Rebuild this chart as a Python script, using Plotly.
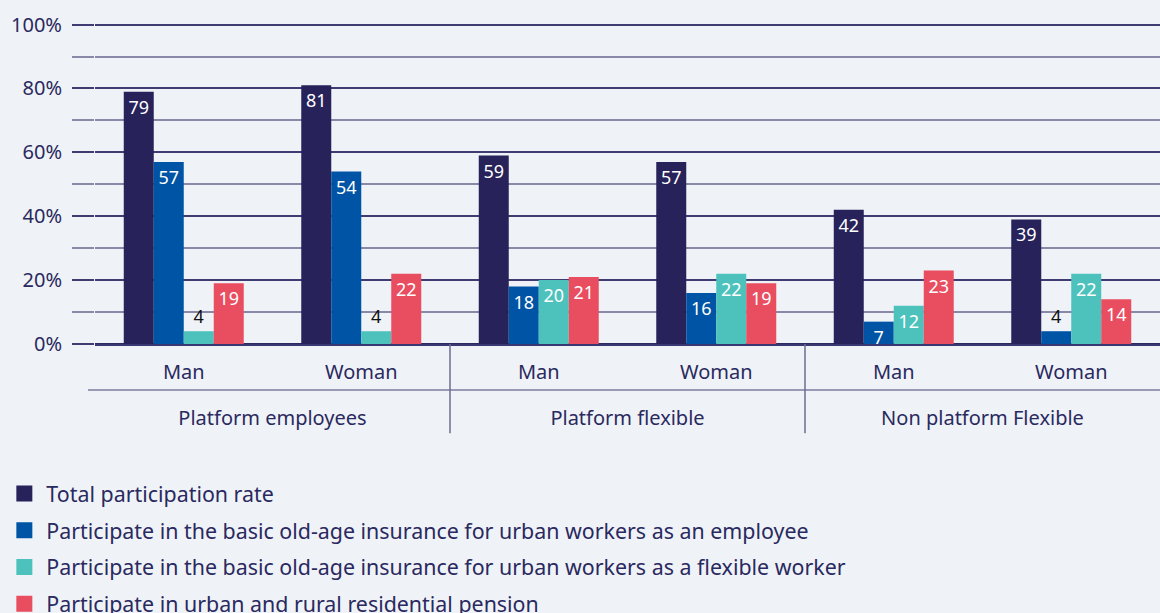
import plotly.graph_objects as go

groups = ["Platform employees", "Platform employees", "Platform flexible", "Platform flexible",
          "Non platform Flexible", "Non platform Flexible"]
genders = ["Man", "Woman", "Man", "Woman", "Man", "Woman"]

series_names = [
    "Total participation rate",
    "Participate in the basic old-age insurance for urban workers as an employee",
    "Participate in the basic old-age insurance for urban workers as a flexible worker",
    "Participate in urban and rural residential pension",
]
total = [79, 81, 59, 57, 42, 39]
employee = [57, 54, 18, 16, 7, 4]
flexible = [4, 4, 20, 22, 12, 22]
residential = [19, 22, 21, 19, 23, 14]
series_values = [total, employee, flexible, residential]
colors = ["#27225A", "#0054A5", "#4DC2BD", "#E94D60"]

ytick_vals = [0, 20, 40, 60, 80, 100]
ytick_text = ["0%", "20%", "40%", "60%", "80%", "100%"]

BG = "#EFF3F7"
NAVY = "#2A2960"
FONT = "Noto Sans"

# an empty first line pushes the group labels further below the Man/Woman row
group_labels = ["<br>" + g for g in groups]

fig = go.Figure()
for name, vals, col in zip(series_names, series_values, colors):
    positions = ["outside" if v <= 5 else "inside" for v in vals]
    fig.add_trace(go.Bar(
        x=[group_labels, genders], y=vals, name=name,
        marker=dict(color=col, line=dict(width=0)),
        text=[str(v) for v in vals], textposition=positions, textangle=0,
        insidetextanchor="end", constraintext="none",
        insidetextfont=dict(family=FONT, size=18, color="white"),
        outsidetextfont=dict(family=FONT, size=18, color="#111111"),
        cliponaxis=False, showlegend=False, legendgroup=name,
        hoverinfo="skip",
    ))
# legend entries with larger square swatches
for name, col in zip(series_names, colors):
    fig.add_trace(go.Scatter(
        x=[[group_labels[0]], [genders[0]]], y=[None], mode="markers", name=name,
        marker=dict(symbol="square", size=16, color=col, line=dict(width=0)),
        legendgroup=name, showlegend=True, hoverinfo="skip",
    ))

shapes = [
    dict(type="line", xref="paper", yref="paper", x0=-0.0066, x1=1, y0=-0.143, y1=-0.143,
         line=dict(color="#7F7C9E", width=1.5)),
]
for xb in [2 / 6, 4 / 6]:
    shapes.append(dict(type="line", xref="paper", yref="paper", x0=xb, x1=xb, y0=0, y1=-0.278,
                       line=dict(color="#6F6C90", width=1.5)))

fig.update_layout(
    width=1160, height=613,
    margin=dict(l=95, r=0, t=23, b=269),
    paper_bgcolor=BG, plot_bgcolor=BG,
    barmode="group", bargap=0.324, bargroupgap=0,
    font=dict(family=FONT, size=20, color=NAVY),
    shapes=shapes,
    legend=dict(
        orientation="v", x=-0.087, xanchor="left", xref="paper",
        y=1 - 473 / 613, yanchor="top", yref="container",
        font=dict(family=FONT, size=21.4, color=NAVY),
        tracegroupgap=6, itemwidth=34, bgcolor="rgba(0,0,0,0)", itemclick=False,
    ),
    xaxis=dict(
        type="multicategory", showdividers=False, ticks="", showgrid=False,
        showline=True, linecolor="#3A3870", linewidth=2, ticklabelstandoff=9,
        tickfont=dict(family=FONT, size=20, color=NAVY),
    ),
    yaxis=dict(
        range=[0, 100.5], tickvals=ytick_vals, ticktext=ytick_text,
        showgrid=True, gridcolor="#3E3C72", gridwidth=1.5,
        ticks="outside", ticklen=22, tickcolor="#3E3C72", tickwidth=1.5,
        ticklabelstandoff=6,
        zeroline=True, zerolinecolor="#2A2960", zerolinewidth=2,
        showline=False,
        tickfont=dict(family=FONT, size=20, color=NAVY),
        minor=dict(dtick=10, showgrid=True, gridcolor="#8A88A8", gridwidth=1.5,
                   ticks="outside", ticklen=22, tickcolor="#8A88A8", tickwidth=1.5),
        fixedrange=True,
    ),
)

fig.write_html(
    "out.html",
    config={"displayModeBar": False},
    post_script="document.body.style.margin='0';document.body.style.overflow='hidden';",
)
